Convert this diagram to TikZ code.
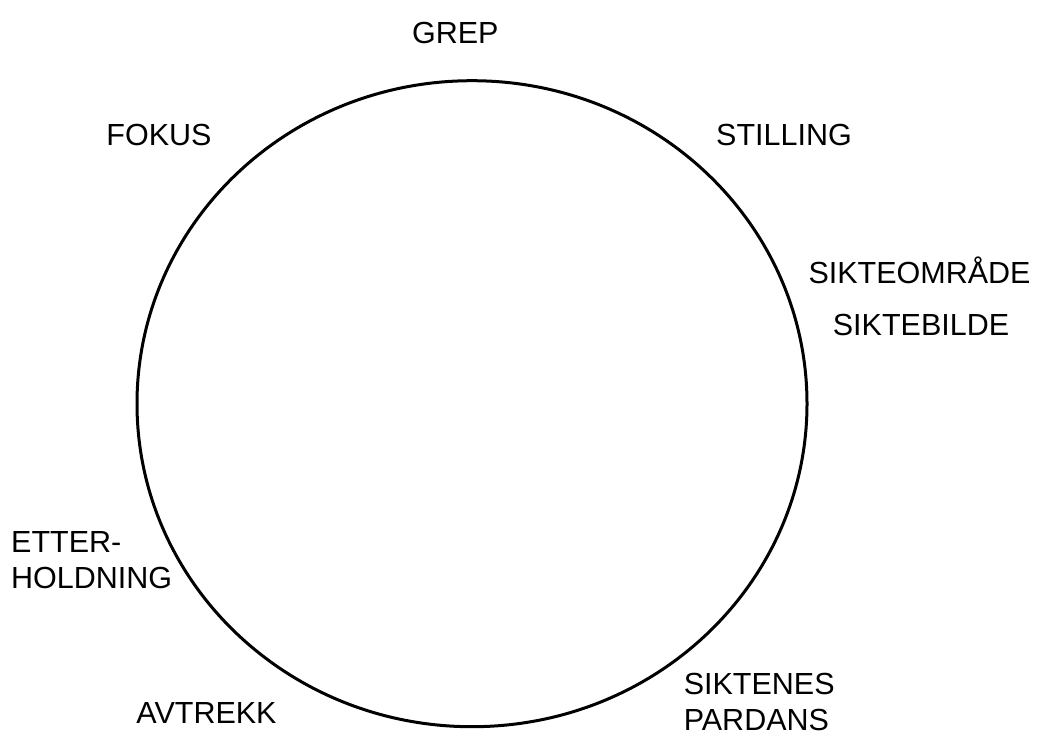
\documentclass[tikz,border=0pt]{standalone}
\usepackage{fontspec}
\setmainfont{Liberation Sans}
\begin{document}
\begin{tikzpicture}[x=1pt,y=-1pt,
  lbl/.style={inner sep=0pt,font=\fontsize{30.5}{36}\selectfont,anchor=base},
  lblw/.style={lbl,anchor=base west}]
\useasboundingbox (0,0) rectangle (1040,734);
\draw[line width=3pt] (472,403.7) ellipse [x radius=335, y radius=323];
\node[lbl] (grep) at (455.3,43.3) {GREP};
\node[lbl] (fokus) at (159,145) {FOKUS};
\node[lbl] (stilling) at (784,145) {STILLING};
\node[lbl] (omr) at (919.5,283.3) {SIKTEOMRÅDE};
\node[lbl] (bilde) at (921,335) {SIKTEBILDE};
\node[lbl] (avtrekk) at (206.5,723.3) {AVTREKK};
\node[lblw] (etter) at (11,552) {ETTER-};
\node[lblw] (holdning) at (11,588) {HOLDNING};
\node[lblw] (siktenes) at (683.6,694.5) {SIKTENES};
\node[lblw] (pardans) at (683.6,730) {PARDANS};
\end{tikzpicture}
\end{document}
